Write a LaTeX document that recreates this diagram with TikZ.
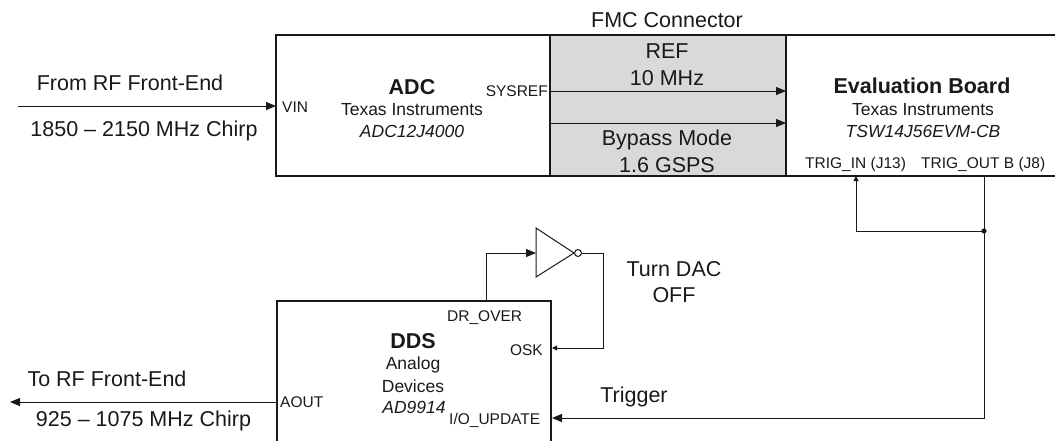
\documentclass[tikz,border=0pt]{standalone}
\usepackage{fontspec}
\setmainfont{Liberation Sans}
\usetikzlibrary{arrows.meta}
\definecolor{fmcgray}{RGB}{217,217,217}
\definecolor{ink}{RGB}{25,25,25}
\begin{document}
\begin{tikzpicture}[x=1pt,y=-1pt,
  wire/.style={line width=1pt, draw=ink},
  boxline/.style={line width=1.1pt, draw=ink},
  bigarrow/.style={wire,-{Triangle[length=10pt,width=8pt]}},
  smallarrow/.style={wire,-{Triangle[length=5pt,width=5pt]}},
  big/.style={font=\fontsize{21.5}{25}\selectfont, inner sep=0pt, anchor=base, text=ink},
  bigbold/.style={font=\fontsize{21.5}{25}\selectfont\bfseries, inner sep=0pt, anchor=base, text=ink},
  mid/.style={font=\fontsize{17.5}{20}\selectfont, inner sep=0pt, anchor=base, text=ink},
  miditalic/.style={font=\fontsize{17.5}{20}\selectfont\itshape, inner sep=0pt, anchor=base, text=ink},
  pin/.style={font=\fontsize{15.5}{18}\selectfont, inner sep=0pt, text=ink},
]
\useasboundingbox (0,0) rectangle (1055,440);

% FMC gray region and top block
\fill[fmcgray] (550,35) rectangle (786,176);
\draw[boxline] (1056,35) -- (276,35) -- (276,176) -- (1056,176);
\draw[boxline] (550,35) -- (550,176);
\draw[boxline] (786,35) -- (786,176);

% DDS block (open at the bottom edge)
\draw[boxline] (277,441) -- (277,301) -- (551,301) -- (551,441);

% inverter
\draw[wire] (536,228) -- (574,253) -- (536,277) -- cycle;
\draw[wire, fill=white] (578,253) circle (3.5);

% coordinates
\coordinate (vinsrc) at (18,106);
\coordinate (vin) at (276,106);
\coordinate (sysref) at (550,91);
\coordinate (refin) at (786,91);
\coordinate (bypsrc) at (550,123);
\coordinate (bypin) at (786,123);
\coordinate (trigin) at (856,176);
\coordinate (trigout) at (984,176);
\coordinate (junc) at (984,231);
\coordinate (ioupd) at (552,418);
\coordinate (osk) at (552,348);
\coordinate (oskturn) at (603,253);
\coordinate (drover) at (486,301);
\coordinate (invin) at (536,253);
\coordinate (invout) at (581.5,253);
\coordinate (aout) at (277,402);
\coordinate (aoutdst) at (10,402);

% connectors
\draw[bigarrow] (vinsrc) -- (vin);
\draw[bigarrow] (sysref) -- (refin);
\draw[bigarrow] (bypsrc) -- (bypin);
\draw[smallarrow] (junc) -| (trigin);
\draw[bigarrow] (trigout) |- (ioupd);
\fill[ink] (junc) circle (2.6);
\draw[bigarrow] (drover) |- (invin);
\draw[smallarrow] (invout) -- (oskturn) |- (osk);
\draw[bigarrow] (aout) -- (aoutdst);

% texts
\node[big] (lfrom) at (130,90) {From RF Front-End};
\node[big] (lchirp1) at (144,136) {1850 – 2150 MHz Chirp};
\node[pin, anchor=base west] (lvin) at (282,112.5) {VIN};
\node[bigbold] (ladc) at (412,94) {ADC};
\node[mid] (ladcti) at (412,115) {Texas Instruments};
\node[miditalic] (ladcpn) at (412,137) {ADC12J4000};
\node[pin, anchor=base east] (lsysref) at (548,96) {SYSREF};

\node[big] (lfmc) at (667,27.5) {FMC Connector};
\node[big] (lref) at (667,58) {REF};
\node[big] (l10) at (667,85) {10 MHz};
\node[big] (lbyp) at (667,145) {Bypass Mode};
\node[big] (lgsps) at (667,172) {1.6 GSPS};

\node[bigbold] (leval) at (922,93) {Evaluation Board};
\node[mid] (levti) at (923,115) {Texas Instruments};
\node[miditalic] (levpn) at (923,137) {TSW14J56EVM-CB};
\node[pin, anchor=base west] (ltrigin) at (805,168) {TRIG\_IN (J13)};
\node[pin, anchor=base west] (ltrigout) at (921,168) {TRIG\_OUT B (J8)};

\node[pin, anchor=base west] (ldrover) at (447,321) {DR\_OVER};
\node[bigbold] (ldds) at (413,348) {DDS};
\node[mid] (lanalog) at (413,369) {Analog};
\node[mid] (ldevices) at (413,392) {Devices};
\node[miditalic] (lad) at (414,413) {AD9914};
\node[pin, anchor=base west] (lioupd) at (449,424) {I/O\_UPDATE};
\node[pin, anchor=base east] (losk) at (543,355) {OSK};
\node[pin, anchor=base west] (laout) at (280,407) {AOUT};

\node[big] (lto) at (107,386.5) {To RF Front-End};
\node[big] (lchirp2) at (143.5,426) {925 – 1075 MHz Chirp};
\node[big] (lturn) at (674,276) {Turn DAC};
\node[big] (loff) at (674,302) {OFF};
\node[big] (ltrig) at (634,402) {Trigger};
\end{tikzpicture}
\end{document}
